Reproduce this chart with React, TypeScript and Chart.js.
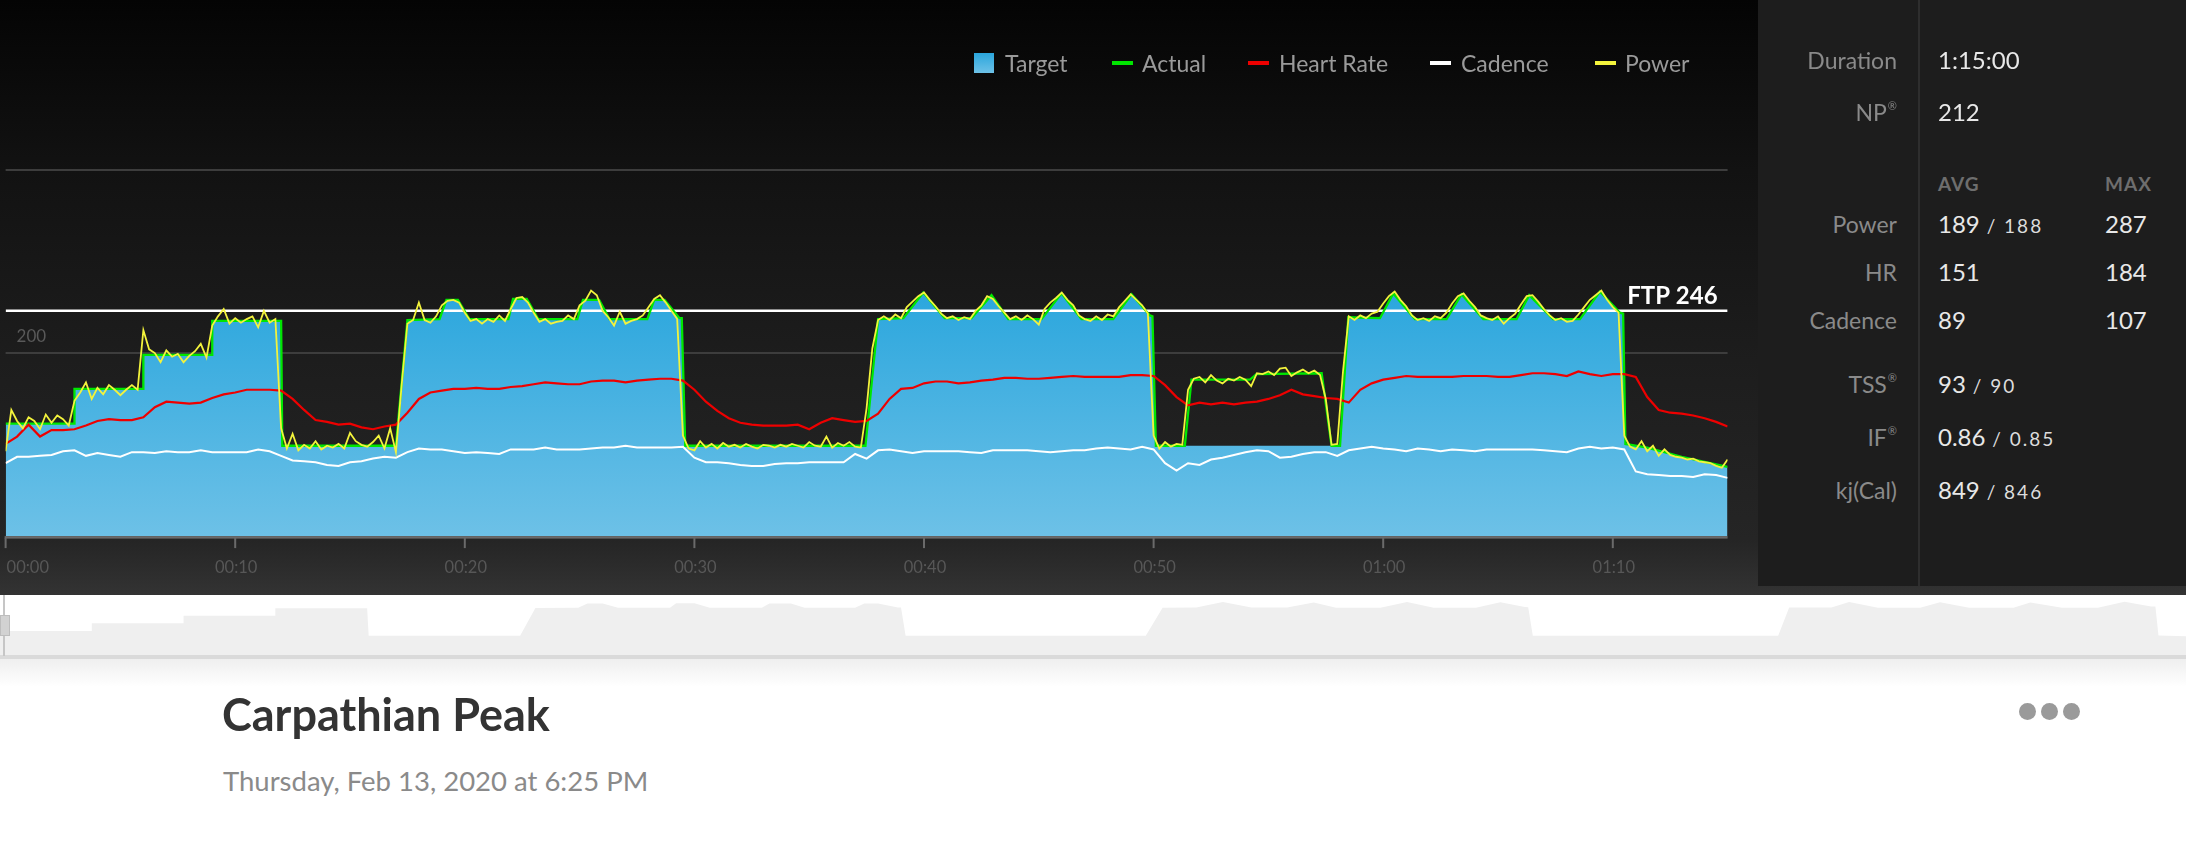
import React, { useEffect, useRef } from 'react';
import { Chart, registerables } from 'chart.js';

Chart.register(...registerables);

const FONT = 'Lato, "Open Sans", "DejaVu Sans", sans-serif';

// ---------- data (minutes / watts / bpm / rpm) ----------
const POWER_STEP_MIN = 0.25; // one power sample every 15 s
const HR_CAD_STEP_MIN = 0.5; // one HR / cadence sample every 30 s

const POWER = [
  93, 138, 126, 118, 130, 126, 117, 133, 124, 132, 128, 121,
  148, 157, 168, 150, 162, 155, 165, 160, 154, 160, 165, 160,
  225, 204, 200, 190, 203, 196, 199, 190, 197, 202, 210, 195,
  230, 240, 248, 232, 238, 233, 237, 240, 228, 246, 233, 237,
  118, 96, 112, 94, 100, 96, 104, 95, 99, 97, 101, 96, 113, 104, 100, 98, 103, 110, 96, 118,
  92, 165, 232, 236, 255, 236, 233, 240,
  252, 257, 258, 255, 244, 235, 237, 232, 237, 234, 241, 235, 248, 260, 261, 255, 244, 234, 237, 232, 234,
  235, 241, 237, 252, 257, 268, 263, 246, 239, 230, 245, 232, 235, 237, 241, 250, 259, 263, 255, 246, 237,
  110,
  96, 94, 104, 97, 101, 96, 102, 98, 100, 97, 101, 98, 96, 100, 99, 97, 100, 98, 101, 99, 97, 103, 99, 98, 109, 97, 102, 99, 103, 98, 97,
  140, 205, 236,
  240, 236, 242, 238, 250, 256, 262, 266, 258, 251, 243, 238, 240, 236, 239, 237, 246, 252, 262, 259, 251, 244, 237, 240,
  236, 241, 237, 231, 248, 255, 260, 266, 258, 252, 241, 237, 235, 240, 236, 242, 240, 250, 257, 264, 258, 252, 243,
  110,
  96, 103, 98, 101, 100,
  160, 172,
  174, 168, 176, 170, 167, 172, 170, 174, 171, 164, 178, 177, 180, 176, 183, 184, 175, 179,
  182, 178, 181, 176,
  150, 100, 101, 180, 240,
  236, 241, 238, 243, 245, 254, 262, 267, 258, 251, 241, 236, 238, 235, 240, 238, 244, 254, 262, 265, 257, 250, 241, 238,
  236, 240, 232, 238, 243, 253, 262, 263, 256, 248, 241, 236, 238, 234, 235, 242, 250, 258, 263, 268, 258, 250, 244,
  110,
  98, 95, 104, 93, 99, 88, 95, 89, 87, 86, 84, 85, 82, 81, 80, 77, 75, 84,
];

const HEART_RATE = [
  101, 109, 122, 109, 116, 116, 117, 121, 126, 128,
  127, 127, 130, 141, 147, 146, 145, 146, 151, 155,
  157, 160, 160, 160, 159, 150, 138, 127, 125, 122,
  123, 119, 117, 120, 122, 135, 150, 157, 159, 161,
  161, 162, 161, 161, 163, 164, 166, 168, 167, 166,
  166, 169, 170, 170, 168, 170, 171, 172, 172, 170,
  160, 147, 137, 129, 124, 122, 121, 121, 121, 122,
  117, 124, 129, 127, 125, 126, 134, 150, 161, 162,
  167, 169, 169, 167, 168, 170, 171, 173, 173, 172,
  172, 173, 174, 175, 174, 174, 174, 174, 176, 176,
  175, 165, 152, 143, 146, 144, 146, 144, 146, 147,
  150, 154, 160, 155, 153, 151, 150, 146, 160, 167,
  171, 173, 175, 174, 174, 174, 174, 175, 175, 175,
  174, 174, 176, 178, 178, 177, 175, 180, 177, 175,
  177, 177, 174, 152, 138, 135, 134, 132, 129, 125,
  120,
];

const CADENCE = [
  80, 87, 87, 88, 89, 93, 94, 88, 91, 89,
  87, 92, 92, 91, 93, 92, 92, 94, 92, 92,
  92, 92, 95, 93, 88, 83, 82, 81, 78, 77,
  81, 82, 85, 87, 86, 92, 96, 95, 95, 93,
  91, 92, 91, 90, 95, 95, 95, 97, 95, 95,
  95, 96, 97, 97, 99, 97, 97, 97, 97, 98,
  86, 81, 81, 80, 78, 77, 77, 79, 80, 80,
  81, 81, 81, 81, 90, 85, 94, 95, 93, 91,
  93, 93, 93, 93, 92, 91, 94, 94, 94, 94,
  93, 92, 93, 94, 94, 96, 97, 96, 95, 98,
  95, 80, 72, 80, 78, 84, 86, 89, 92, 94,
  93, 86, 87, 90, 92, 92, 88, 94, 96, 98,
  96, 95, 93, 96, 95, 93, 95, 94, 93, 95,
  95, 95, 95, 95, 94, 93, 92, 96, 98, 96,
  97, 95, 71, 68, 67, 66, 66, 65, 68, 67,
  64,
];

// [minute, watts]
const TARGET = [
  [0, 123], [3, 123], [3, 161], [6, 161], [6, 198], [9, 198], [9, 235], [12, 235], [12.05, 99], [17, 99],
  [17.5, 236], [18.9, 237], [19.2, 258], [19.7, 258], [20.2, 237], [21.9, 237], [22.1, 259], [22.7, 259],
  [23.2, 237], [24.9, 237], [25.15, 258], [25.85, 258], [26.3, 237], [27.95, 237], [28.25, 258], [28.7, 258],
  [29.35, 238], [29.45, 238], [29.6, 99], [37.45, 99], [38.0, 237], [39.1, 238], [39.97, 266], [40.9, 238],
  [42.07, 238], [42.94, 263], [43.67, 237], [45.12, 237], [45.99, 265], [46.86, 237], [48.24, 237], [49.04, 264],
  [49.84, 241], [49.95, 240], [50.1, 99], [58.12, 99], [58.48, 239], [59.86, 238], [60.44, 265], [61.38, 237],
  [62.76, 237], [63.41, 264], [64.36, 237], [65.81, 237], [66.36, 263], [67.4, 237], [68.57, 237], [69.44, 267],
  [70.31, 244], [70.45, 243], [70.55, 101], [71.5, 97], [73, 87], [75, 76],
];

const ACTUAL = [
  [0, 123], [3, 123], [3, 161], [6, 161], [6, 198], [9, 198], [9, 235], [12, 235], [12.05, 99], [17, 99],
  [17.5, 236], [18.9, 237], [19.2, 258], [19.7, 258], [20.2, 237], [21.9, 237], [22.1, 259], [22.7, 259],
  [23.2, 237], [24.9, 237], [25.15, 258], [25.85, 258], [26.3, 237], [27.95, 237], [28.25, 258], [28.7, 258],
  [29.35, 238], [29.45, 238], [29.6, 99], [37.45, 99], [38.0, 237], [39.1, 238], [39.97, 266], [40.9, 238],
  [42.07, 238], [42.94, 263], [43.67, 237], [45.12, 237], [45.99, 265], [46.86, 237], [48.24, 237], [49.04, 264],
  [49.84, 241], [49.95, 240], [50.1, 99], [51.36, 99], [51.65, 171], [54.2, 171], [54.48, 177], [57.32, 178],
  [57.75, 99], [58.12, 99], [58.48, 239], [59.86, 238], [60.44, 265], [61.38, 237],
  [62.76, 237], [63.41, 264], [64.36, 237], [65.81, 237], [66.36, 263], [67.4, 237], [68.57, 237], [69.44, 267],
  [70.31, 244], [70.45, 243], [70.55, 101], [71.5, 97], [73, 87], [75, 76],
];

const FTP = 246;
const X_MAX_MIN = 75;
const Y_MAX_W = 400;
const Y_GRID = [200, 400];
const Y_LABELS = [200];
const X_TICKS = [0, 10, 20, 30, 40, 50, 60, 70];
const X_TICK_LABELS = ['00:00', '00:10', '00:20', '00:30', '00:40', '00:50', '01:00', '01:10'];
const OVERVIEW_X_MAX_MIN = 71.45;
const OVERVIEW_Y_MAX_W = 300;

// ---------- helpers ----------
const seriesXY = (vals: number[], step: number) => vals.map((v, i) => ({ x: i * step, y: v }));
const pairsXY = (pairs: number[][]) => pairs.map(([x, y]) => ({ x, y }));

const decorPlugin = {
  id: 'decor',
  beforeDatasetsDraw(chart: any) {
    const { ctx, chartArea: a, scales } = chart;
    const y = scales.y;
    ctx.save();
    ctx.strokeStyle = '#3d3d3d';
    ctx.lineWidth = 2;
    Y_GRID.forEach((v) => {
      const py = Math.round(y.getPixelForValue(v));
      ctx.beginPath();
      ctx.moveTo(a.left, py);
      ctx.lineTo(a.right, py);
      ctx.stroke();
    });
    ctx.fillStyle = '#595959';
    ctx.font = `17px ${FONT}`;
    ctx.textAlign = 'left';
    ctx.textBaseline = 'alphabetic';
    Y_LABELS.forEach((v) => {
      ctx.fillText(String(v), a.left + 11, y.getPixelForValue(v) - 11);
    });
    ctx.restore();
  },
  afterDatasetsDraw(chart: any) {
    const { ctx, chartArea: a, scales } = chart;
    const x = scales.x;
    const y = scales.y;
    ctx.save();
    // FTP label
    ctx.fillStyle = '#ffffff';
    ctx.font = `bold 24px ${FONT}`;
    ctx.textAlign = 'right';
    ctx.textBaseline = 'alphabetic';
    ctx.fillText(`FTP ${FTP}`, a.right - 10, y.getPixelForValue(FTP) - 7);
    // axis line
    ctx.fillStyle = '#6a6a6a';
    ctx.fillRect(a.left - 1, a.bottom - 0.5, a.right - a.left + 1, 2.5);
    // ticks + labels
    ctx.font = `16.5px ${FONT}`;
    X_TICKS.forEach((t, i) => {
      const px = x.getPixelForValue(t);
      ctx.fillStyle = '#6a6a6a';
      ctx.fillRect(px - 1, a.bottom + 1.5, 2, 10);
      ctx.fillStyle = '#575757';
      ctx.textAlign = i === 0 ? 'left' : 'center';
      ctx.fillText(X_TICK_LABELS[i], px + 1, a.bottom + 36);
    });
    ctx.restore();
  },
};

const targetFill = (c: any) => {
  const { chart } = c;
  const { ctx, chartArea, scales } = chart;
  if (!chartArea) return '#3fb0e0';
  const g = ctx.createLinearGradient(0, scales.y.getPixelForValue(270), 0, scales.y.getPixelForValue(0));
  g.addColorStop(0, '#2aa6dd');
  g.addColorStop(1, '#6dc1e7');
  return g;
};

// ---------- UI pieces ----------
const LabelCell = ({ cy, text, sup }: { cy: number; text: string; sup?: boolean }) => (
  <div
    style={{
      position: 'absolute', right: 289, top: cy - 18, height: 32, lineHeight: '32px',
      fontSize: 23, color: '#8a8a8a', textAlign: 'right', whiteSpace: 'nowrap',
    }}
  >
    {text}
    {sup && <span style={{ fontSize: 11, position: 'relative', top: -11, marginLeft: 1 }}>®</span>}
  </div>
);

const ValueCell = ({ cy, x, main, small }: { cy: number; x: number; main: string; small?: string }) => (
  <div
    style={{
      position: 'absolute', left: x, top: cy - 18, height: 32, lineHeight: '32px',
      fontSize: 24, color: '#e8e8e8', whiteSpace: 'nowrap',
    }}
  >
    {main}
    {small && (
      <span style={{ fontSize: 19, letterSpacing: 2, color: '#dcdcdc' }}>
        {' / '}
        {small}
      </span>
    )}
  </div>
);

const LEGEND_ITEMS = [
  { label: 'Target', kind: 'box', color: '', mx: 974, tx: 1005 },
  { label: 'Actual', kind: 'line', color: '#00e600', mx: 1112, tx: 1142 },
  { label: 'Heart Rate', kind: 'line', color: '#ee0000', mx: 1248, tx: 1279 },
  { label: 'Cadence', kind: 'line', color: '#ffffff', mx: 1430, tx: 1461 },
  { label: 'Power', kind: 'line', color: '#f3f33c', mx: 1595, tx: 1625 },
];

export default function App() {
  const mainRef = useRef<HTMLCanvasElement>(null);
  const overRef = useRef<HTMLCanvasElement>(null);

  useEffect(() => {
    document.body.style.margin = '0';
    const main = new Chart(mainRef.current as HTMLCanvasElement, {
      type: 'line',
      data: {
        datasets: [
          { label: 'Power', data: seriesXY(POWER, POWER_STEP_MIN), borderColor: '#f3f33c', borderWidth: 1.8, pointRadius: 0, fill: false, order: 1 },
          { label: 'Cadence', data: seriesXY(CADENCE, HR_CAD_STEP_MIN), borderColor: '#ffffff', borderWidth: 2, pointRadius: 0, fill: false, order: 2 },
          { label: 'Heart Rate', data: seriesXY(HEART_RATE, HR_CAD_STEP_MIN), borderColor: '#ee0000', borderWidth: 2.2, pointRadius: 0, fill: false, order: 3 },
          { label: 'Actual', data: pairsXY(ACTUAL), borderColor: '#00e600', borderWidth: 2.3, pointRadius: 0, fill: false, order: 4 },
          { label: 'FTP', data: [{ x: 0, y: FTP }, { x: X_MAX_MIN, y: FTP }], borderColor: '#ffffff', borderWidth: 2.5, pointRadius: 0, fill: false, order: 5 },
          { label: 'Target', data: pairsXY(TARGET), borderWidth: 0, borderColor: 'rgba(0,0,0,0)', backgroundColor: targetFill, pointRadius: 0, fill: 'origin', order: 6 },
        ] as any,
      },
      options: {
        animation: false,
        responsive: false,
        devicePixelRatio: 1,
        layout: { padding: { left: 5.6, right: 30.4, top: 169.5, bottom: 53.4 } },
        scales: {
          x: { type: 'linear', min: 0, max: X_MAX_MIN, display: false },
          y: { min: 0, max: Y_MAX_W, display: false },
        },
        plugins: { legend: { display: false }, tooltip: { enabled: false } },
        elements: { line: { tension: 0 }, point: { radius: 0 } },
      },
      plugins: [decorPlugin],
    } as any);

    const over = new Chart(overRef.current as HTMLCanvasElement, {
      type: 'line',
      data: {
        datasets: [
          { label: 'Target', data: pairsXY(TARGET), borderWidth: 0, borderColor: 'rgba(0,0,0,0)', backgroundColor: '#efefef', pointRadius: 0, fill: 'origin' },
        ] as any,
      },
      options: {
        animation: false,
        responsive: false,
        devicePixelRatio: 1,
        layout: { padding: 0 },
        scales: {
          x: { type: 'linear', min: 0, max: OVERVIEW_X_MAX_MIN, display: false },
          y: { min: 0, max: OVERVIEW_Y_MAX_W, display: false },
        },
        plugins: { legend: { display: false }, tooltip: { enabled: false } },
      },
    } as any);

    return () => {
      main.destroy();
      over.destroy();
    };
  }, []);

  return (
    <div
      style={{
        position: 'absolute', left: 0, top: 0, width: 2186, height: 846, overflow: 'hidden',
        background: '#ffffff', fontFamily: FONT,
      }}
    >
      {/* dark chart panel */}
      <div
        style={{
          position: 'absolute', left: 0, top: 0, width: 2186, height: 595,
          background: 'linear-gradient(#040404 0px, #121212 170px, #1d1d1d 360px, #252525 540px, #333333 595px)',
        }}
      />
      <canvas ref={mainRef} width={1758} height={590} style={{ position: 'absolute', left: 0, top: 0, width: 1758, height: 590 }} />

      {/* legend */}
      {LEGEND_ITEMS.map((it) => (
        <React.Fragment key={it.label}>
          {it.kind === 'box' ? (
            <div style={{ position: 'absolute', left: it.mx, top: 53, width: 20, height: 20, background: 'linear-gradient(#2aa6dd, #6dc1e7)' }} />
          ) : (
            <div style={{ position: 'absolute', left: it.mx, top: 61, width: 21, height: 4, background: it.color }} />
          )}
          <div style={{ position: 'absolute', left: it.tx, top: 47, height: 32, lineHeight: '32px', fontSize: 23, color: '#9a9a9a', whiteSpace: 'nowrap' }}>
            {it.label}
          </div>
        </React.Fragment>
      ))}

      {/* stats panel */}
      <div style={{ position: 'absolute', left: 1758, top: 0, width: 428, height: 586, background: '#1d1d1d' }} />
      <div style={{ position: 'absolute', left: 1918, top: 0, width: 2, height: 586, background: '#2e2e2e' }} />
      <LabelCell cy={62} text="Duration" />
      <ValueCell cy={62} x={1938} main="1:15:00" />
      <LabelCell cy={114} text="NP" sup />
      <ValueCell cy={114} x={1938} main="212" />
      <div style={{ position: 'absolute', left: 1938, top: 171, height: 26, lineHeight: '26px', fontSize: 19, fontWeight: 700, letterSpacing: 1, color: '#6e6e6e' }}>AVG</div>
      <div style={{ position: 'absolute', left: 2105, top: 171, height: 26, lineHeight: '26px', fontSize: 19, fontWeight: 700, letterSpacing: 1, color: '#6e6e6e' }}>MAX</div>
      <LabelCell cy={226} text="Power" />
      <ValueCell cy={226} x={1938} main="189" small="188" />
      <ValueCell cy={226} x={2105} main="287" />
      <LabelCell cy={274} text="HR" />
      <ValueCell cy={274} x={1938} main="151" />
      <ValueCell cy={274} x={2105} main="184" />
      <LabelCell cy={322} text="Cadence" />
      <ValueCell cy={322} x={1938} main="89" />
      <ValueCell cy={322} x={2105} main="107" />
      <LabelCell cy={386} text="TSS" sup />
      <ValueCell cy={386} x={1938} main="93" small="90" />
      <LabelCell cy={439} text="IF" sup />
      <ValueCell cy={439} x={1938} main="0.86" small="0.85" />
      <LabelCell cy={492} text="kj(Cal)" />
      <ValueCell cy={492} x={1938} main="849" small="846" />

      {/* overview strip */}
      <canvas ref={overRef} width={2186} height={61} style={{ position: 'absolute', left: 0, top: 595, width: 2186, height: 61 }} />
      <div style={{ position: 'absolute', left: 0, top: 655, width: 2186, height: 4, background: '#dadada' }} />
      <div style={{ position: 'absolute', left: 0, top: 659, width: 2186, height: 28, background: 'linear-gradient(#efefef, #ffffff)' }} />
      <div style={{ position: 'absolute', left: 3, top: 595, width: 2, height: 61, background: '#c6c6c6' }} />
      <div style={{ position: 'absolute', left: 0, top: 615, width: 8, height: 19, background: '#d2d2d2', border: '1px solid #bdbdbd' }} />

      {/* title */}
      <div style={{ position: 'absolute', left: 222, top: 686, height: 56, lineHeight: '56px', fontSize: 45, fontWeight: 700, color: '#333333', whiteSpace: 'nowrap' }}>
        Carpathian Peak
      </div>
      <div style={{ position: 'absolute', left: 223, top: 763, height: 36, lineHeight: '36px', fontSize: 27.5, color: '#8a8a8a', whiteSpace: 'nowrap' }}>
        Thursday, Feb 13, 2020 at 6:25 PM
      </div>
      {[2027, 2049, 2071].map((cx) => (
        <div key={cx} style={{ position: 'absolute', left: cx - 8.5, top: 703, width: 17, height: 17, borderRadius: '50%', background: '#9a9a9a' }} />
      ))}
    </div>
  );
}
